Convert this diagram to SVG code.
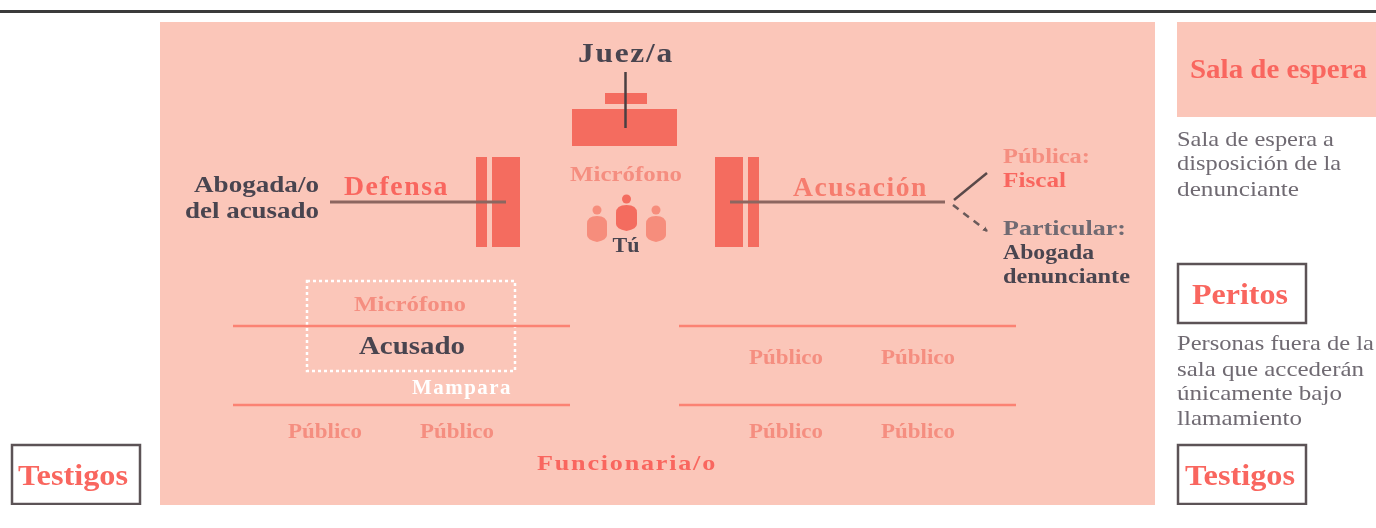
<svg xmlns="http://www.w3.org/2000/svg" width="1376" height="528" viewBox="0 0 1376 528">
<style>
text{font-family:"Liberation Serif","Times New Roman",serif;font-weight:700}
.dk{fill:#4a4450}.rd{fill:#f9665e}.lt{fill:#f58e80}.gr{fill:#6f6a72;font-weight:400;font-size:21px}.pt{fill:#6f6a72}
.trk{letter-spacing:1.5px}
.bar{fill:#f46c5f}.pale{fill:#f68d7c}
.box{fill:#fff;stroke:#5c5356;stroke-width:2.5}
.ln{stroke:#8c6660;stroke-width:3;fill:none}
.sep{stroke:#fb8273;stroke-width:2.5;fill:none}
.c{text-anchor:middle}
</style>
<defs>
<filter id="soft" x="0" y="0" width="100%" height="100%"><feGaussianBlur stdDeviation="0.5"/></filter>
<marker id="tip" markerUnits="userSpaceOnUse" markerWidth="7" markerHeight="7" refX="4" refY="3" orient="auto"><path d="M0 0.500L5 3L0 5.500z" fill="#6a5a5a"/></marker>
</defs>
<rect width="1376" height="528" fill="#fff"/>
<g filter="url(#soft)">
<rect id="top-rule" x="0" y="10" width="1376" height="3" fill="#3a3a3a"/>
<g id="sala"><rect x="160" y="22" width="995" height="483" fill="#fbc6b9"/></g>
<g id="juez">
<rect class="bar" x="605" y="93" width="42" height="11"/>
<rect class="bar" x="572" y="109" width="105" height="37"/>
<text class="dk c trk" x="626" y="62" font-size="27" textLength="96" lengthAdjust="spacingAndGlyphs">Juez/a</text>
</g>
<g id="defensa">
<rect class="bar" x="476" y="157" width="11" height="90"/>
<rect class="bar" x="492" y="157" width="28" height="90"/>
<text class="rd trk" x="344" y="195" font-size="27" textLength="105" lengthAdjust="spacingAndGlyphs">Defensa</text>
<text class="dk" x="319" y="192" font-size="24" text-anchor="end" textLength="125" lengthAdjust="spacingAndGlyphs">Abogada/o</text>
<text class="dk" x="319" y="218" font-size="24" text-anchor="end" textLength="134" lengthAdjust="spacingAndGlyphs">del acusado</text>
</g>
<g id="acusacion">
<rect class="bar" x="715" y="157" width="28" height="90"/>
<rect class="bar" x="748" y="157" width="11" height="90"/>
<text class="lt trk" x="793" y="196" font-size="27" textLength="135" lengthAdjust="spacingAndGlyphs" style="fill:#f67c6e">Acusación</text>
<text class="lt" x="1003" y="163" font-size="22" textLength="87" lengthAdjust="spacingAndGlyphs">Pública:</text>
<text class="rd" x="1003" y="187" font-size="22" textLength="63" lengthAdjust="spacingAndGlyphs">Fiscal</text>
<text class="pt" x="1003" y="235" font-size="22" textLength="123" lengthAdjust="spacingAndGlyphs">Particular:</text>
<text class="dk" x="1003" y="259" font-size="22" textLength="91" lengthAdjust="spacingAndGlyphs">Abogada</text>
<text class="dk" x="1003" y="283" font-size="22" textLength="127" lengthAdjust="spacingAndGlyphs">denunciante</text>
</g>
<g id="tu">
<text class="lt c" x="626" y="181" font-size="22" textLength="112" lengthAdjust="spacingAndGlyphs">Micrófono</text>
<circle class="pale" cx="597" cy="210" r="4.5"/><path class="pale" d="M587 224q0-8 10-8t10 8v11q0 5-10 7-10-2-10-7z"/>
<circle class="bar" cx="626.500" cy="199" r="4.500"/><path class="bar" d="M616 213q0-8 10.500-8t10.500 8v11q0 5-10.500 7-10.500-2-10.500-7z"/>
<circle class="pale" cx="656" cy="210" r="4.5"/><path class="pale" d="M646 224q0-8 10-8t10 8v11q0 5-10 7-10-2-10-7z"/>
<text class="dk c" x="626" y="252" font-size="22">Tú</text>
</g>
<g id="acusado">
<rect x="307" y="281" width="208" height="90" fill="none" stroke="#fff" stroke-width="2.500" stroke-dasharray="3 3"/>
<text class="lt c" x="410" y="311" font-size="22" textLength="112" lengthAdjust="spacingAndGlyphs">Micrófono</text>
<text class="dk c" x="412" y="354" font-size="26" textLength="106" lengthAdjust="spacingAndGlyphs">Acusado</text>
<text class="c trk" x="462" y="394" font-size="21" fill="#fff" textLength="100" lengthAdjust="spacingAndGlyphs">Mampara</text>
</g>
<g id="publico">
<text class="lt c" x="325" y="438" font-size="20" textLength="74" lengthAdjust="spacingAndGlyphs">Público</text>
<text class="lt c" x="457" y="438" font-size="20" textLength="74" lengthAdjust="spacingAndGlyphs">Público</text>
<text class="lt c" x="786" y="364" font-size="20" textLength="74" lengthAdjust="spacingAndGlyphs">Público</text>
<text class="lt c" x="918" y="364" font-size="20" textLength="74" lengthAdjust="spacingAndGlyphs">Público</text>
<text class="lt c" x="786" y="438" font-size="20" textLength="74" lengthAdjust="spacingAndGlyphs">Público</text>
<text class="lt c" x="918" y="438" font-size="20" textLength="74" lengthAdjust="spacingAndGlyphs">Público</text>
<text class="rd c trk" x="627" y="470" font-size="22" textLength="180" lengthAdjust="spacingAndGlyphs">Funcionaria/o</text>
</g>
<g id="connectors">
<path class="ln" d="M330 202H506"/>
<path class="ln" d="M730 202H945"/>
<path d="M625.500 72V128" stroke="#4a3f42" stroke-width="2.500" fill="none"/>
<path d="M954 200L987 173" stroke="#5a4a4a" stroke-width="2.500" fill="none"/>
<path d="M953 205L987 231" stroke="#6a5a5a" stroke-width="2.500" stroke-dasharray="7 6" fill="none" marker-end="url(#tip)"/>
<path class="sep" d="M233 326H570M233 405H570M679 326H1016M679 405H1016"/>
</g>
<g id="sala-de-espera">
<rect x="1177" y="22" width="199" height="95" fill="#fbc6b9"/>
<text class="rd" x="1190" y="78" font-size="27" textLength="177" lengthAdjust="spacingAndGlyphs">Sala de espera</text>
<text class="gr" x="1177" y="146" textLength="157" lengthAdjust="spacingAndGlyphs">Sala de espera a</text>
<text class="gr" x="1177" y="170" textLength="164" lengthAdjust="spacingAndGlyphs">disposición de la</text>
<text class="gr" x="1177" y="196" textLength="122" lengthAdjust="spacingAndGlyphs">denunciante</text>
</g>
<g id="peritos">
<rect class="box" x="1178" y="264" width="128" height="59"/>
<text class="rd c" x="1240" y="304" font-size="29" textLength="96" lengthAdjust="spacingAndGlyphs">Peritos</text>
<text class="gr" x="1177" y="350" textLength="197" lengthAdjust="spacingAndGlyphs">Personas fuera de la</text>
<text class="gr" x="1177" y="376" textLength="187" lengthAdjust="spacingAndGlyphs">sala que accederán</text>
<text class="gr" x="1177" y="400" textLength="165" lengthAdjust="spacingAndGlyphs">únicamente bajo</text>
<text class="gr" x="1177" y="425" textLength="125" lengthAdjust="spacingAndGlyphs">llamamiento</text>
</g>
<g id="testigos-derecha">
<rect class="box" x="1178" y="445" width="128" height="59"/>
<text class="rd c" x="1240" y="485" font-size="29" textLength="110" lengthAdjust="spacingAndGlyphs">Testigos</text>
</g>
<g id="testigos-izquierda">
<rect class="box" x="12" y="445" width="128" height="59"/>
<text class="rd c" x="73" y="485" font-size="29" textLength="110" lengthAdjust="spacingAndGlyphs">Testigos</text>
</g>
</g>
</svg>
